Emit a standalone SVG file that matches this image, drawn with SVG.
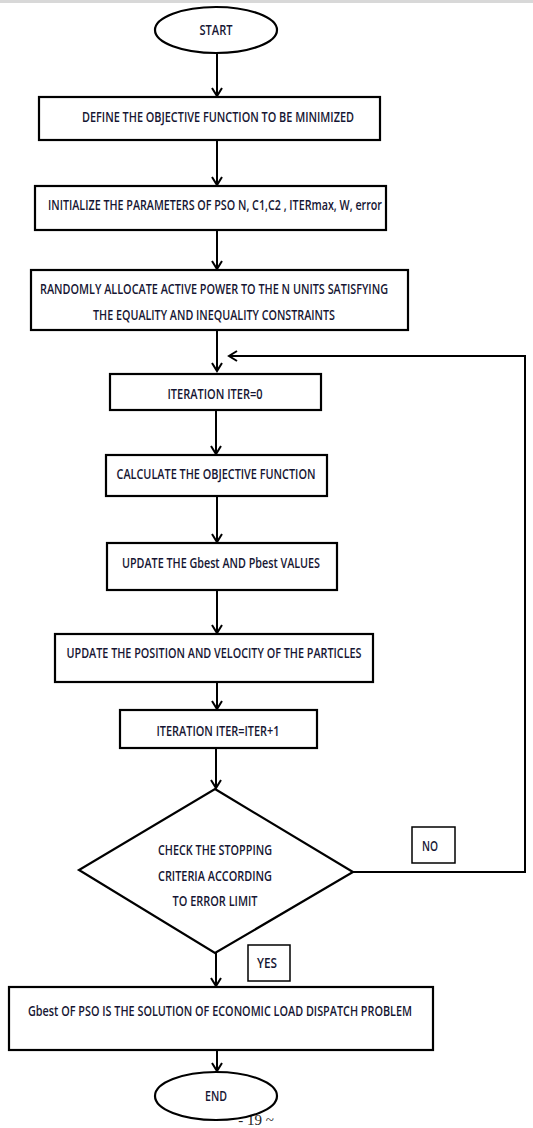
<svg xmlns="http://www.w3.org/2000/svg" width="533" height="1128" viewBox="0 0 533 1128">
<style>
.b{fill:#fff;stroke:#000;stroke-width:2.2}
.t{font-family:"Open Sans","Liberation Sans",sans-serif;font-size:13.5px;font-weight:600;fill:#161633;text-anchor:middle}
.c{fill:none;stroke:#000;stroke-width:2}
</style>
<defs>
<marker id="ah" markerWidth="12" markerHeight="12" refX="10" refY="6" orient="auto" markerUnits="userSpaceOnUse" viewBox="0 0 12 12">
<path d="M2,1 L10,6 L2,11" fill="none" stroke="#000" stroke-width="2"/>
</marker>
</defs>
<rect x="0" y="0" width="533" height="1128" fill="#fff"/>
<rect x="0" y="0" width="533" height="3" fill="#d8d8d8"/>
<text x="256" y="1125" font-family="Liberation Serif,serif" font-size="15" fill="#222" text-anchor="middle">- 19 ~</text>
<g id="connectors">
<path class="c" d="M217,53 V96" marker-end="url(#ah)"/>
<path class="c" d="M217,140 V185" marker-end="url(#ah)"/>
<path class="c" d="M217,230 V269" marker-end="url(#ah)"/>
<path class="c" d="M217,330 V371" marker-end="url(#ah)"/>
<path class="c" d="M216,410 V454" marker-end="url(#ah)"/>
<path class="c" d="M217,496 V542" marker-end="url(#ah)"/>
<path class="c" d="M217,590 V633" marker-end="url(#ah)"/>
<path class="c" d="M217,682 V709" marker-end="url(#ah)"/>
<path class="c" d="M216,748 V788" marker-end="url(#ah)"/>
<path class="c" d="M216,953 V986" marker-end="url(#ah)"/>
<path class="c" d="M217,1050 V1071" marker-end="url(#ah)"/>
<path class="c" d="M353,872 H525 V356 H229" stroke-width="2.5" marker-end="url(#ah)"/>
</g>
<g id="start"><ellipse class="b" cx="216" cy="30" rx="61" ry="23"/><text class="t" x="216" y="35" textLength="33" lengthAdjust="spacingAndGlyphs">START</text></g>
<g id="define"><rect class="b" x="39" y="97" width="341" height="43"/><text class="t" x="218" y="122" textLength="272" lengthAdjust="spacingAndGlyphs">DEFINE THE OBJECTIVE FUNCTION TO BE MINIMIZED</text></g>
<g id="init"><rect class="b" x="35" y="186" width="351" height="44"/><text class="t" x="215" y="210" textLength="334" lengthAdjust="spacingAndGlyphs">INITIALIZE THE PARAMETERS OF PSO N, C1,C2 , ITERmax, W, error</text></g>
<g id="random"><rect class="b" x="31" y="270" width="377" height="60"/><text class="t" x="214" y="294" textLength="348" lengthAdjust="spacingAndGlyphs">RANDOMLY ALLOCATE ACTIVE POWER TO THE N UNITS SATISFYING</text><text class="t" x="214" y="320" textLength="242" lengthAdjust="spacingAndGlyphs">THE EQUALITY AND INEQUALITY CONSTRAINTS</text></g>
<g id="iter0"><rect class="b" x="110" y="374" width="211" height="36"/><text class="t" x="215" y="399" textLength="95" lengthAdjust="spacingAndGlyphs">ITERATION ITER=0</text></g>
<g id="calc"><rect class="b" x="106" y="455" width="221" height="41"/><text class="t" x="216" y="479" textLength="199" lengthAdjust="spacingAndGlyphs">CALCULATE THE OBJECTIVE FUNCTION</text></g>
<g id="gbest"><rect class="b" x="107" y="543" width="230" height="47"/><text class="t" x="221" y="568" textLength="198" lengthAdjust="spacingAndGlyphs">UPDATE THE Gbest AND Pbest VALUES</text></g>
<g id="posvel"><rect class="b" x="55" y="634" width="318" height="48"/><text class="t" x="214" y="658" textLength="295" lengthAdjust="spacingAndGlyphs">UPDATE THE POSITION AND VELOCITY OF THE PARTICLES</text></g>
<g id="iter1"><rect class="b" x="120" y="710" width="197" height="38"/><text class="t" x="218" y="736" textLength="123" lengthAdjust="spacingAndGlyphs">ITERATION ITER=ITER+1</text></g>
<g id="check"><polygon class="b" points="215,789 353,872 215,953 79,870"/><text class="t" x="215" y="855" textLength="114" lengthAdjust="spacingAndGlyphs">CHECK THE STOPPING</text><text class="t" x="215" y="881" textLength="114" lengthAdjust="spacingAndGlyphs">CRITERIA ACCORDING</text><text class="t" x="215" y="906" textLength="85" lengthAdjust="spacingAndGlyphs">TO ERROR LIMIT</text></g>
<g id="no"><rect fill="#fff" stroke="#000" stroke-width="1.5" x="412" y="827" width="43" height="36"/><text class="t" x="430" y="851" textLength="16" lengthAdjust="spacingAndGlyphs">NO</text></g>
<g id="yes"><rect fill="#fff" stroke="#000" stroke-width="1.5" x="248" y="945" width="42" height="36"/><text class="t" x="267" y="968" textLength="20" lengthAdjust="spacingAndGlyphs">YES</text></g>
<g id="solution"><rect class="b" x="9" y="987" width="424" height="63"/><text class="t" x="220" y="1016" textLength="384" lengthAdjust="spacingAndGlyphs">Gbest OF PSO IS THE SOLUTION OF ECONOMIC LOAD DISPATCH PROBLEM</text></g>
<g id="end"><ellipse class="b" cx="216" cy="1096" rx="61" ry="24"/><text class="t" x="216" y="1101" textLength="22" lengthAdjust="spacingAndGlyphs">END</text></g>
</svg>
